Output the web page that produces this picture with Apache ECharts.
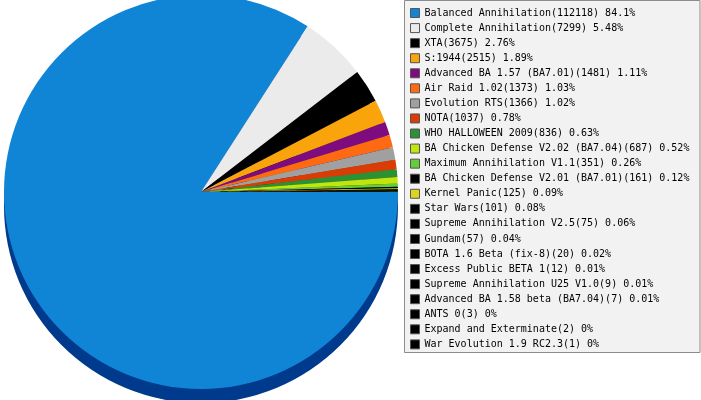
<!DOCTYPE html>
<html style="height: 100%">
    <head>
        <title>Mod usage</title>
        <script type="text/javascript" src="https://fastly.jsdelivr.net/npm/echarts@6.0.0/dist/echarts.min.js"></script>
    </head>
    <body style="height: 100%; margin: 0; background: #fff">
        <div id="target" style="width: 701px; height: 400px"></div>
<script>

const names = [
    "Balanced Annihilation", "Complete Annihilation", "XTA", "S:1944",
    "Advanced BA 1.57 (BA7.01)", "Air Raid 1.02", "Evolution RTS", "NOTA",
    "WHO HALLOWEEN 2009", "BA Chicken Defense V2.02 (BA7.04)", "Maximum Annihilation V1.1",
    "BA Chicken Defense V2.01 (BA7.01)", "Kernel Panic", "Star Wars",
    "Supreme Annihilation V2.5", "Gundam", "BOTA 1.6 Beta (fix-8)", "Excess Public BETA 1",
    "Supreme Annihilation U25 V1.0", "Advanced BA 1.58 beta (BA7.04)", "ANTS 0",
    "Expand and Exterminate", "War Evolution 1.9 RC2.3"
];
const games = [112118, 7299, 3675, 2515, 1481, 1373, 1366, 1037, 836, 687, 351,
    161, 125, 101, 75, 57, 20, 12, 9, 7, 3, 2, 1];
const percents = ["84.1", "5.48", "2.76", "1.89", "1.11", "1.03", "1.02", "0.78",
    "0.63", "0.52", "0.26", "0.12", "0.09", "0.08", "0.06", "0.04", "0.02", "0.01",
    "0.01", "0.01", "0", "0", "0"];

const colors = ["#1185d5", "#ebebeb", "#000000", "#f9a40a", "#7e0c80", "#fd6a12",
    "#a0a0a0", "#d93c04", "#2b9233", "#c0e60c", "#64cd3a", "#000000", "#dcd41e",
    "#000000", "#000000", "#000000", "#000000", "#000000", "#000000", "#000000",
    "#000000", "#000000", "#000000"];
// darker tones for the pie's side wall
const wallColors = ["#003a8c", "#8a8a8a", "#000000", "#9a6200", "#4a004c", "#9a3a00",
    "#606060", "#7e2000", "#145418", "#6e8800", "#3a7a1c", "#000000", "#807a0c",
    "#000000", "#000000", "#000000", "#000000", "#000000", "#000000", "#000000",
    "#000000", "#000000", "#000000"];

let chart = echarts.init(document.getElementById('target'));

let lookup = {};
names.forEach((n, i) => lookup[n] = `${n}(${games[i]}) ${percents[i]}%`);

function pieSeries(cols, center, z)
{
    return {
        type: "pie",
        z: z,
        center: center,
        radius: 197,
        startAngle: 0,
        clockwise: true,
        silent: true,
        label: { show: false },
        labelLine: { show: false },
        emphasis: { disabled: true },
        itemStyle: { borderWidth: 0 },
        data: names.map((n, i) => ({
            name: n,
            value: games[i],
            itemStyle: { color: cols[i] },
        })),
    };
}

let option = {
    animation: false,
    graphic: [
        {
            type: "rect",
            shape: { x: 404.5, y: 0.5, width: 295.5, height: 352 },
            style: { fill: "#f2f2f2", stroke: "#8c8c8c", lineWidth: 1 },
            z: 0,
        },
    ],
    legend: {
        orient: "vertical",
        left: 410,
        top: 4,
        padding: 0,
        itemWidth: 9,
        itemHeight: 9,
        itemGap: -3,
        icon: "rect",
        selectedMode: false,
        itemStyle: { borderColor: "#555", borderWidth: 1 },
        textStyle: {
            fontFamily: "DejaVu Sans Mono",
            fontSize: 10,
            lineHeight: 10,
            color: "#000",
        },
        formatter: name => lookup[name],
        data: names,
    },
    series: [
        pieSeries(colors, [201, 192], 3),
        pieSeries(wallColors, [201, 206], 2),
    ],
};

chart.setOption(option);

</script>
    </body>
</html>
